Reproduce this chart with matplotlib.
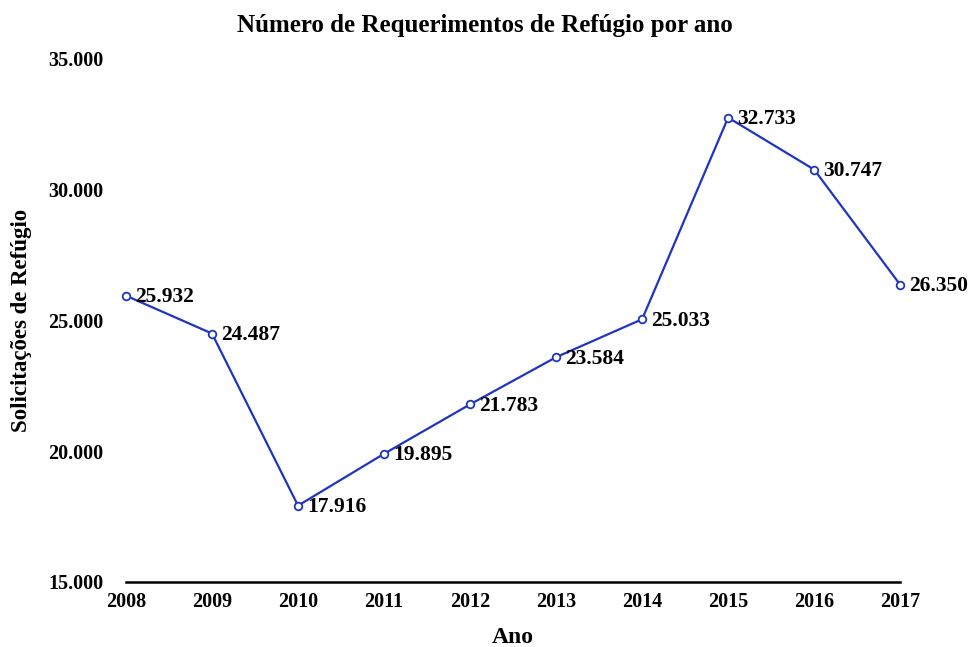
import matplotlib
matplotlib.use("Agg")
import matplotlib.pyplot as plt

anos = [2008, 2009, 2010, 2011, 2012, 2013, 2014, 2015, 2016, 2017]
solicitacoes = [25932, 24487, 17916, 19895, 21783, 23584, 25033, 32733, 30747, 26350]
yticks = [15000, 20000, 25000, 30000, 35000]


def br(v):
    return f"{v:,}".replace(",", ".")


plt.rcParams["font.family"] = ["Liberation Serif", "DejaVu Serif"]
plt.rcParams["font.weight"] = "bold"

fig = plt.figure(figsize=(9.69, 6.47), dpi=100)
ax = fig.add_axes([0.130, 0.1005, 0.799, 0.8095])

color = "#1f35c0"
ax.plot(anos, solicitacoes, color=color, linewidth=1.6, marker="o", markersize=5.5,
        markerfacecolor="white", markeredgecolor=color, markeredgewidth=1.3,
        clip_on=False, zorder=3)
for x, y in zip(anos, solicitacoes):
    ax.annotate(br(y), (x, y), xytext=(6.5, -1), textcoords="offset points",
                ha="left", va="center", fontsize=15.5, fontweight="bold")

ax.set_xlim(2008, 2017)
ax.set_ylim(15000, 35000)
ax.set_xticks(anos)
ax.set_xticklabels([str(a) for a in anos])
ax.set_yticks(yticks)
ax.set_yticklabels([br(v) for v in yticks])
ax.tick_params(axis="both", length=0, labelsize=14.5)
ax.tick_params(axis="y", pad=16)
ax.tick_params(axis="x", pad=7)
for s in ("top", "right", "left"):
    ax.spines[s].set_visible(False)
ax.spines["bottom"].set_linewidth(1.8)

ax.set_xlabel("Ano", fontsize=17, fontweight="bold", labelpad=11)
ax.set_ylabel("Solicitações de Refúgio", fontsize=16.5, fontweight="bold", labelpad=12)
fig.suptitle("Número de Requerimentos de Refúgio por ano", fontsize=18,
             fontweight="bold", y=0.979)

fig.savefig("out.png", dpi=100)
